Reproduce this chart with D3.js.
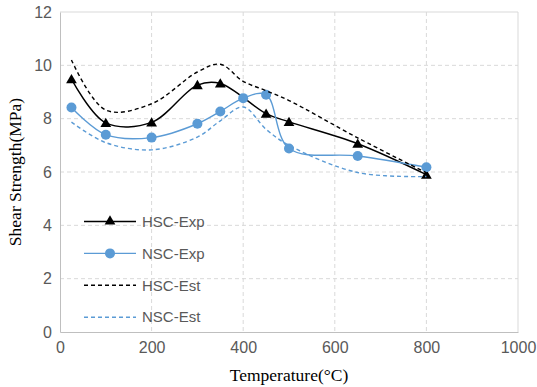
<!DOCTYPE html>
<html>
<head>
<meta charset="utf-8">
<script src="https://cdn.jsdelivr.net/npm/d3@7"></script>
<style>
  body { margin: 0; background: #fff; }
  text { font-family: 'Liberation Sans', Arial, sans-serif; }
</style>
</head>
<body>
<div id="chart"></div>
<script>
const hscExpT = [25, 100, 200, 300, 350, 450, 500, 650, 800]
const hscExp = [9.48, 7.84, 7.86, 9.26, 9.32, 8.19, 7.88, 7.06, 5.9]
const nscExpT = [25, 100, 200, 300, 350, 400, 450, 500, 650, 800]
const nscExp = [8.42, 7.4, 7.29, 7.81, 8.27, 8.77, 8.9, 6.88, 6.6, 6.18]
const hscEstT = [25, 100, 200, 300, 350, 400, 450, 500, 650, 800]
const hscEst = [10.2, 8.32, 8.56, 9.75, 10.04, 9.4, 9.05, 8.68, 7.28, 5.97]
const nscEstT = [25, 100, 200, 300, 350, 400, 450, 500, 650, 800]
const nscEst = [7.87, 7.1, 6.83, 7.31, 7.92, 8.44, 7.6, 7.0, 5.98, 5.83]
const xTicks = [0, 200, 400, 600, 800, 1000]
const yTicks = [0, 2, 4, 6, 8, 10, 12]

const width = 537, height = 387
const margin = {top: 12, right: 19, bottom: 55, left: 60}
const w = width - margin.left - margin.right,
  h = height - margin.top - margin.bottom

const xScale = d3.scaleLinear().domain([0, 1000]).range([0, w])
const yScale = d3.scaleLinear().domain([0, 12]).range([h, 0])

const svg = d3.select('#chart').append('svg')
  .attr('width', width)
  .attr('height', height)

const g = svg.append('g')
  .attr('transform', `translate(${margin.left}, ${margin.top})`)

// grid
g.append('g')
  .selectAll('line')
  .data(yTicks.filter(d => d > 0 && d < 12))
  .enter().append('line')
  .attr('x1', 0).attr('x2', w)
  .attr('y1', d => yScale(d)).attr('y2', d => yScale(d))
  .attr('stroke', '#d9d9d9').attr('stroke-dasharray', '4,3')
g.append('g')
  .selectAll('line')
  .data(xTicks.filter(d => d > 0 && d < 1000))
  .enter().append('line')
  .attr('y1', 0).attr('y2', h)
  .attr('x1', d => xScale(d)).attr('x2', d => xScale(d))
  .attr('stroke', '#d9d9d9').attr('stroke-dasharray', '4,3')
g.append('path')
  .attr('d', `M0,0H${w}V${h}`)
  .attr('fill', 'none').attr('stroke', '#d9d9d9')

// axes
const xAxis = g.append('g')
  .attr('transform', `translate(0, ${h})`)
  .call(d3.axisBottom(xScale).tickValues(xTicks).tickFormat(d3.format('d')).tickSize(0).tickPadding(10))
const yAxis = g.append('g')
  .call(d3.axisLeft(yScale).tickValues(yTicks).tickSize(0).tickPadding(8))
;[xAxis, yAxis].forEach(a => {
  a.select('.domain').attr('stroke', '#bfbfbf')
  a.selectAll('text')
    .attr('fill', '#595959')
    .style('font-size', '16px')
    .style('font-family', "'Liberation Sans', Arial, sans-serif")
})

svg.append('text')
  .attr('x', margin.left + w / 2)
  .attr('y', 381)
  .attr('text-anchor', 'middle')
  .style('font-family', "'Liberation Serif', 'Times New Roman', serif")
  .style('font-size', '17.5px')
  .text('Temperature(°C)')
svg.append('text')
  .attr('transform', `translate(21, ${margin.top + h / 2}) rotate(-90)`)
  .attr('text-anchor', 'middle')
  .style('font-family', "'Liberation Serif', 'Times New Roman', serif")
  .style('font-size', '17.5px')
  .text('Shear Strength(MPa)')

const line = d3.line()
  .x(d => xScale(d[0]))
  .y(d => yScale(d[1]))
  .curve(d3.curveCatmullRom.alpha(0.5))

const series = [
  {name: 'HSC-Exp', t: hscExpT, v: hscExp, color: '#000', dash: null, marker: 'tri'},
  {name: 'NSC-Exp', t: nscExpT, v: nscExp, color: '#5b9bd5', dash: null, marker: 'circle'},
  {name: 'HSC-Est', t: hscEstT, v: hscEst, color: '#000', dash: '4,3', marker: null},
  {name: 'NSC-Est', t: nscEstT, v: nscEst, color: '#5b9bd5', dash: '4,3', marker: null}
]

const triangle = d3.symbol().type(d3.symbolTriangle).size(50)

series.forEach(s => {
  const pts = s.t.map((t, i) => [t, s.v[i]])
  g.append('path')
    .datum(pts)
    .attr('d', line)
    .attr('fill', 'none')
    .attr('stroke', s.color)
    .attr('stroke-width', 1.4)
    .attr('stroke-dasharray', s.dash)
  if (s.marker === 'tri') {
    g.append('g').selectAll('path')
      .data(pts)
      .enter().append('path')
      .attr('d', triangle)
      .attr('transform', d => `translate(${xScale(d[0])}, ${yScale(d[1]) + 1})`)
      .attr('fill', s.color)
  } else if (s.marker === 'circle') {
    g.append('g').selectAll('circle')
      .data(pts)
      .enter().append('circle')
      .attr('cx', d => xScale(d[0]))
      .attr('cy', d => yScale(d[1]))
      .attr('r', 5)
      .attr('fill', s.color)
  }
})

// legend
const legend = svg.append('g')
  .selectAll('g')
  .data(series)
  .enter().append('g')
  .attr('transform', (d, i) => `translate(84, ${221.5 + i * 31.9})`)
legend.append('line')
  .attr('x1', 0).attr('x2', 52)
  .attr('stroke', d => d.color)
  .attr('stroke-width', 1.4)
  .attr('stroke-dasharray', d => d.dash)
legend.filter(d => d.marker === 'tri').append('path')
  .attr('d', triangle)
  .attr('transform', 'translate(26, 0)')
  .attr('fill', d => d.color)
legend.filter(d => d.marker === 'circle').append('circle')
  .attr('cx', 26).attr('r', 5)
  .attr('fill', d => d.color)
legend.append('text')
  .attr('x', 58).attr('y', 0)
  .attr('dy', '0.35em')
  .attr('fill', '#595959')
  .style('font-size', '15px')
  .text(d => d.name)
</script>
</body>
</html>
